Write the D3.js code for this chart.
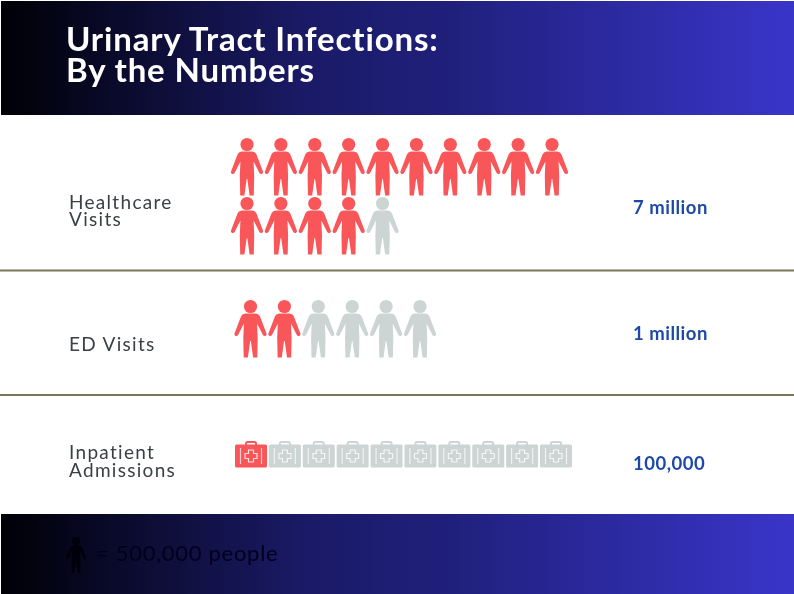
<!DOCTYPE html>
<html><head><meta charset="utf-8">
<script src="https://d3js.org/d3.v7.min.js"></script>
<style>html,body{margin:0;padding:0;background:#fff}svg{display:block}</style>
</head><body><svg id="c" width="794" height="594"></svg>
<script>
const titleLines = ["Urinary Tract Infections:", "By the Numbers"];
const categories = ["Healthcare Visits", "ED Visits", "Inpatient Admissions"];
const valueLabels = ["7 million", "1 million", "100,000"];
const filledCounts = [14, 2, 1];
const totalCounts = [15, 6, 10];
const legendText = "= 500,000 people";

const svg = d3.select("#c");
const defs = svg.append("defs");
const g = defs.append("linearGradient").attr("id","bg");
g.append("stop").attr("offset","0").attr("stop-color","#000006");
g.append("stop").attr("offset","0.38").attr("stop-color","#1a1a66");
g.append("stop").attr("offset","0.57").attr("stop-color","#20207c");
g.append("stop").attr("offset","1").attr("stop-color","#3a35c9");
const blur = defs.append("filter").attr("id","soft").attr("x","-10%").attr("y","-10%").attr("width","120%").attr("height","120%");
blur.append("feGaussianBlur").attr("stdDeviation","0.5");

svg.append("rect").attr("x",1).attr("y",1).attr("width",793).attr("height",114).attr("fill","url(#bg)");
svg.append("rect").attr("x",1).attr("y",514).attr("width",793).attr("height",80).attr("fill","url(#bg)");
[270.5,395].forEach(y=>svg.append("rect").attr("x",0).attr("y",y-1).attr("width",794).attr("height",2).attr("fill","#77775c"));

const FONT = "Lato, 'Open Sans', sans-serif";
svg.selectAll(".title").data(titleLines).join("text")
  .attr("x",66).attr("y",(d,i)=>51+i*30.5)
  .attr("fill","#fff").attr("font-family",FONT).attr("font-weight",700)
  .attr("font-size",33).attr("letter-spacing",0.85).attr("filter","url(#soft)").text(d=>d);

const personPath = "M-4.5,13.5 L4.5,13.5 C7,13.5 8.5,14.5 9.5,16.5 L16,33.5 C16.8,36 13.4,37 12.4,35 L6.6,23.5 L7.2,38 L6.8,57.5 L2.6,57.5 L0.3,41 L-0.3,41 L-2.6,57.5 L-6.8,57.5 L-7.2,38 L-6.6,23.5 L-12.4,35 C-13.4,37 -16.8,36 -16,33.5 L-9.5,16.5 C-8.5,14.5 -7,13.5 -4.5,13.5 Z";
const RED = "#f9575a", GREY = "#ccd5d3";

function person(sel, cx, top, color){
  const p = sel.append("g").attr("transform",`translate(${cx},${top})`).attr("fill",color);
  p.append("circle").attr("cy",6.5).attr("r",6.6);
  p.append("path").attr("d",personPath);
  return p;
}
function kit(sel, cx, top, color){
  const k = sel.append("g").attr("transform",`translate(${cx},${top})`);
  k.append("path").attr("d","M-5,4 V2.5 Q-5,1 -3.5,1 H3.5 Q5,1 5,2.5 V4").attr("fill","none").attr("stroke",color).attr("stroke-width",2);
  k.append("rect").attr("x",-16).attr("y",3.5).attr("width",32).attr("height",23).attr("rx",1.5).attr("fill",color);
  [-10.5,10.5].forEach(x=>k.append("rect").attr("x",x-0.6).attr("y",7).attr("width",1.2).attr("height",16).attr("fill","#fff").attr("opacity",.7));
  k.append("path").attr("d","M-2.5,9 H2.5 V12.5 H6 V17.5 H2.5 V21 H-2.5 V17.5 H-6 V12.5 H-2.5 Z").attr("fill","none").attr("stroke","#fff").attr("stroke-width",1.2).attr("opacity",.8);
}

const xRow = d3.scaleLinear().domain([0,9]).range([247,552]);
const yRows = d3.scaleLinear().domain([0,1]).range([138,197]);
const marks = svg.append("g").attr("filter","url(#soft)");
d3.range(totalCounts[0]).forEach(i=>{
  person(marks, xRow(i%10), yRows(Math.floor(i/10)), i<filledCounts[0]?RED:GREY);
});
const xEd = d3.scaleLinear().domain([0,5]).range([250.5,420]);
d3.range(totalCounts[1]).forEach(i=>{
  person(marks, xEd(i), 300, i<filledCounts[1]?RED:GREY);
});
const xKit = d3.scaleLinear().domain([0,9]).range([251,556]);
d3.range(totalCounts[2]).forEach(i=>{
  kit(marks, xKit(i), 441, i<filledCounts[2]?RED:GREY);
});

const labelPos = [[["Healthcare",209],["Visits",226]],[["ED Visits",351]],[["Inpatient",459],["Admissions",477]]];
const labelRows = svg.append("g").attr("filter","url(#soft)");
labelPos.forEach((rows,ci)=>rows.forEach(r=>{
  labelRows.append("text").attr("x",69).attr("y",r[1]).attr("font-family",FONT)
    .attr("font-size",19).attr("letter-spacing",1.3).attr("fill","#3b4145").text(r[0]);
}));
const valueY = [214,340,470];
svg.selectAll(".val").data(valueLabels).join("text")
  .attr("x",633).attr("y",(d,i)=>valueY[i]).attr("font-family",FONT).attr("font-weight",700)
  .attr("font-size",18.5).attr("letter-spacing",0.5).attr("fill","#1f4aa8").attr("filter","url(#soft)").text(d=>d);

const lg = svg.append("g").attr("filter","url(#soft)");
const lp = lg.append("g").attr("transform","translate(76,537) scale(0.62)").attr("fill","#050510");
lp.append("circle").attr("cy",6.5).attr("r",6.6);
lp.append("path").attr("d",personPath);
lg.append("text").attr("x",96).attr("y",561).attr("font-family",FONT).attr("font-size",22).attr("letter-spacing",0.7)
  .attr("fill","#05051c").text(legendText);
</script></body></html>
